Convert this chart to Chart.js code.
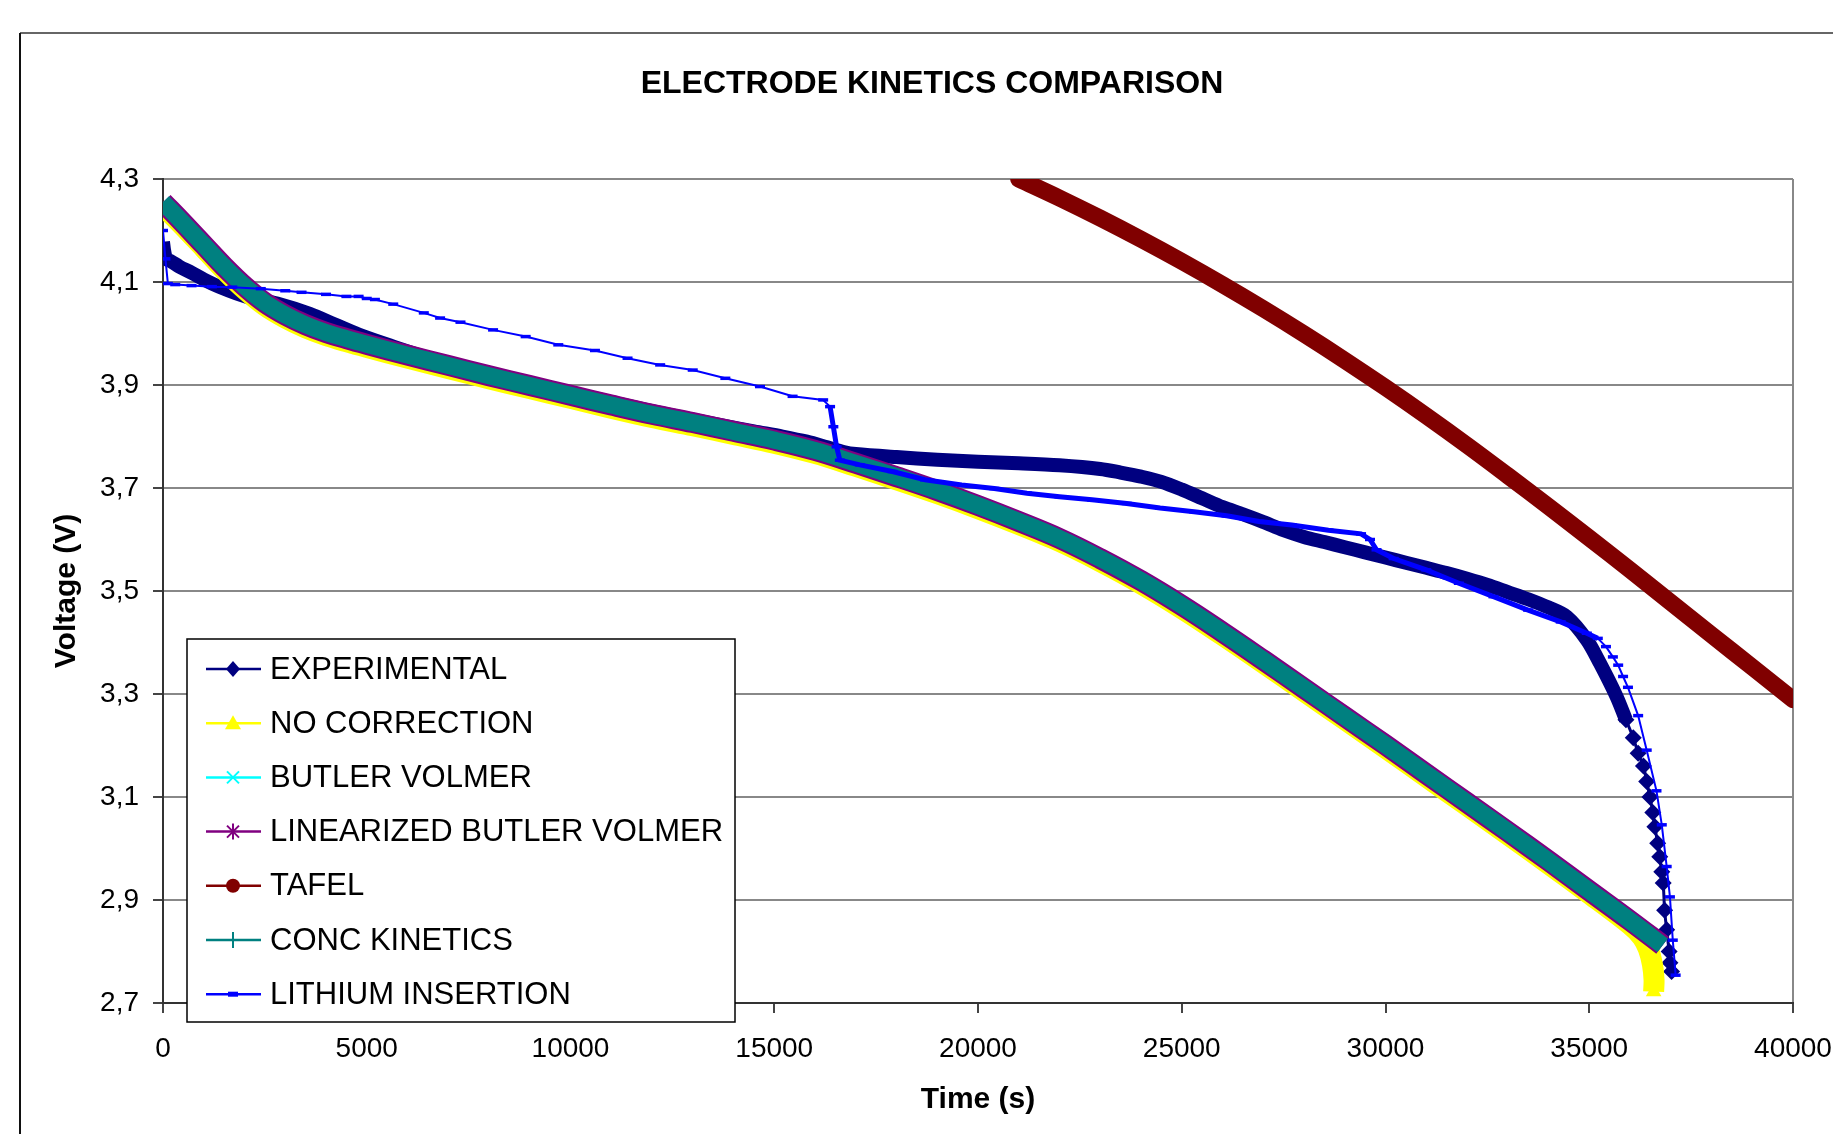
<!DOCTYPE html>
<html>
<head>
<meta charset="utf-8">
<title>Electrode kinetics comparison</title>
<script src="https://cdn.jsdelivr.net/npm/chart.js@4.4.1/dist/chart.umd.min.js"></script>
<style>
  html, body { margin: 0; padding: 0; background: #fff; }
  canvas { display: block; }
</style>
</head>
<body>
<canvas id="kineticsChart" width="1833" height="1134"></canvas>
<script>
// Ticks
const xTicks = [0, 5000, 10000, 15000, 20000, 25000, 30000, 35000, 40000];
const yTicks = [2.7, 2.9, 3.1, 3.3, 3.5, 3.7, 3.9, 4.1, 4.3];
const yTickLabels = ['2,7', '2,9', '3,1', '3,3', '3,5', '3,7', '3,9', '4,1', '4,3'];

// EXPERIMENTAL
const expTime = [0, 30, 80, 200, 400, 700, 1000, 1400, 1800, 2200, 2800, 3600, 4200, 4800, 5600,
  6500, 7500, 8500, 9500, 10500, 11500, 12500, 13500, 14500, 15200, 15800, 16300, 16700, 17000,
  18000, 19000, 20000, 21000, 22000, 23000, 23500, 24000, 24500, 25000, 25500, 26000, 26500, 27000,
  27500, 28000, 28500, 29000, 29500, 30000, 30500, 31000, 31500, 32000, 32500, 33000, 33500, 34000,
  34450, 34940, 35260, 35670, 35900, 36080, 36200, 36330, 36410, 36490, 36560, 36610, 36680, 36730,
  36780, 36815, 36850, 36900, 36960, 36980, 37020];
const expVolt = [4.178, 4.160, 4.145, 4.140, 4.130, 4.118, 4.105, 4.090, 4.078, 4.068, 4.058, 4.038, 4.018, 3.998, 3.976,
  3.953, 3.933, 3.913, 3.894, 3.876, 3.858, 3.841, 3.825, 3.810, 3.800, 3.790, 3.779, 3.770, 3.766,
  3.760, 3.755, 3.751, 3.748, 3.744, 3.737, 3.730, 3.722, 3.712, 3.697, 3.680, 3.663, 3.649, 3.634,
  3.618, 3.605, 3.595, 3.585, 3.575, 3.565, 3.555, 3.545, 3.535, 3.524, 3.512, 3.498, 3.484, 3.468,
  3.450, 3.405, 3.360, 3.295, 3.250, 3.215, 3.185, 3.160, 3.130, 3.100, 3.070, 3.042, 3.010, 2.984,
  2.955, 2.933, 2.880, 2.842, 2.800, 2.778, 2.761];

// model curves (BUTLER VOLMER, LINEARIZED BUTLER VOLMER, CONC KINETICS)
const modelTime = [0, 500, 1000, 1500, 2000, 2500, 3000, 3500, 4000, 4500, 5000, 6000, 7000, 8000, 9000,
  10000, 11000, 12000, 13000, 14000, 15000, 16000, 17000, 18000, 19000, 20000, 21000, 22000, 23000,
  24000, 25000, 26000, 27000, 28000, 29000, 30000, 31000, 32000, 33000, 34000, 35000, 36000, 36800];
const concVolt = [4.255, 4.214, 4.172, 4.130, 4.092, 4.060, 4.036, 4.017, 4.002, 3.990, 3.979, 3.958, 3.938, 3.918, 3.899,
  3.880, 3.861, 3.843, 3.827, 3.810, 3.793, 3.773, 3.748, 3.722, 3.695, 3.666, 3.635, 3.602, 3.563,
  3.520, 3.472, 3.420, 3.366, 3.311, 3.256, 3.201, 3.145, 3.089, 3.033, 2.976, 2.918, 2.860, 2.812];
const bvVolt = [4.255, 4.214, 4.172, 4.130, 4.092, 4.060, 4.036, 4.017, 4.002, 3.990, 3.979, 3.958, 3.938, 3.918, 3.899,
  3.880, 3.861, 3.843, 3.827, 3.810, 3.793, 3.773, 3.748, 3.722, 3.695, 3.666, 3.635, 3.602, 3.563,
  3.520, 3.472, 3.420, 3.366, 3.311, 3.256, 3.201, 3.145, 3.089, 3.033, 2.976, 2.918, 2.860, 2.812];
const linBvVolt = [4.255, 4.214, 4.172, 4.130, 4.092, 4.060, 4.036, 4.017, 4.002, 3.990, 3.979, 3.958, 3.938, 3.918, 3.899,
  3.880, 3.861, 3.843, 3.827, 3.810, 3.793, 3.773, 3.748, 3.722, 3.695, 3.666, 3.635, 3.602, 3.563,
  3.520, 3.472, 3.420, 3.366, 3.311, 3.256, 3.201, 3.145, 3.089, 3.033, 2.976, 2.918, 2.860, 2.812];

// NO CORRECTION
const noCorrTime = [0, 500, 1000, 1500, 2000, 2500, 3000, 3500, 4000, 4500, 5000, 6000, 7000, 8000, 9000,
  10000, 11000, 12000, 13000, 14000, 15000, 16000, 17000, 18000, 19000, 20000, 21000, 22000, 23000,
  24000, 25000, 26000, 27000, 28000, 29000, 30000, 31000, 32000, 33000, 34000, 35000, 36000, 36300,
  36450, 36550, 36590, 36580];
const noCorrVolt = [4.248, 4.208, 4.166, 4.124, 4.086, 4.054, 4.030, 4.011, 3.996, 3.984, 3.973, 3.952, 3.932, 3.912, 3.893,
  3.874, 3.855, 3.837, 3.821, 3.804, 3.787, 3.767, 3.742, 3.716, 3.689, 3.660, 3.629, 3.596, 3.557,
  3.514, 3.466, 3.414, 3.360, 3.305, 3.250, 3.195, 3.139, 3.083, 3.027, 2.970, 2.912, 2.852, 2.828,
  2.805, 2.775, 2.745, 2.722];

// TAFEL
const tafelTime = [21000, 22000, 23000, 24000, 25000, 26000, 27000, 28000, 29000, 30000, 31000,
  32000, 33000, 34000, 35000, 36000, 37000, 38000, 39000, 40000];
const tafelVolt = [4.300, 4.263, 4.224, 4.183, 4.140, 4.095, 4.048, 3.999, 3.948, 3.895, 3.840,
  3.783, 3.724, 3.664, 3.603, 3.541, 3.478, 3.415, 3.352, 3.289];

// LITHIUM INSERTION
const liTime = [0, 60, 120, 300, 700, 1200, 1700, 2400, 3000, 3400, 4000, 4500, 4800, 5000, 5200,
  5650, 6400, 6800, 7300, 8100, 8900, 9700, 10600, 11400, 12200, 13000, 13800, 14650, 15450, 16200,
  16370, 16450, 16530, 16610, 17100, 17900, 18700, 19600, 20400, 21200, 22000, 22800, 23650, 24470,
  25300, 26100, 26900, 27700, 28600, 29400, 29620, 29780, 30200, 31000, 31800, 32650, 33500, 34300,
  34940, 35210, 35410, 35580, 35710, 35830, 35950, 36200, 36410, 36650, 36780, 36900, 36980, 37050, 37120];
const liVolt = [4.200, 4.145, 4.097, 4.095, 4.093, 4.091, 4.090, 4.087, 4.083, 4.080, 4.076, 4.072, 4.072, 4.068, 4.066,
  4.057, 4.040, 4.030, 4.022, 4.007, 3.994, 3.978, 3.967, 3.952, 3.939, 3.929, 3.913, 3.897, 3.878, 3.871,
  3.858, 3.819, 3.780, 3.754, 3.745, 3.732, 3.716, 3.706, 3.699, 3.690, 3.683, 3.677, 3.670, 3.661,
  3.654, 3.646, 3.635, 3.628, 3.618, 3.611, 3.600, 3.580, 3.563, 3.541, 3.515, 3.489, 3.463, 3.440,
  3.418, 3.408, 3.392, 3.372, 3.356, 3.334, 3.313, 3.258, 3.191, 3.112, 3.046, 2.965, 2.906, 2.822, 2.754];

const FONT = "'Liberation Sans', Arial, Helvetica, sans-serif";

function toPoints(times, volts) {
  return times.map((t, i) => ({ x: t, y: volts[i] }));
}

// marco exterior + fondo
const framePlugin = {
  id: 'frame',
  beforeDraw(chart) {
    const ctx = chart.ctx;
    ctx.save();
    ctx.fillStyle = '#fff';
    ctx.fillRect(0, 0, chart.width, chart.height);
    ctx.lineWidth = 2;
    ctx.strokeStyle = '#666';
    ctx.beginPath();
    ctx.moveTo(20, 33);
    ctx.lineTo(chart.width, 33);
    ctx.stroke();
    ctx.strokeStyle = '#111';
    ctx.beginPath();
    ctx.moveTo(20, 33);
    ctx.lineTo(20, chart.height);
    ctx.stroke();
    ctx.restore();
  }
};

function drawMarker(ctx, type, cx, cy, color) {
  ctx.save();
  ctx.fillStyle = color;
  ctx.strokeStyle = color;
  ctx.lineWidth = 2;
  ctx.beginPath();
  if (type === 'diamond') {
    ctx.moveTo(cx, cy - 8); ctx.lineTo(cx + 7, cy); ctx.lineTo(cx, cy + 8); ctx.lineTo(cx - 7, cy);
    ctx.closePath(); ctx.fill();
  } else if (type === 'triangle') {
    ctx.moveTo(cx, cy - 8); ctx.lineTo(cx + 8, cy + 6); ctx.lineTo(cx - 8, cy + 6);
    ctx.closePath(); ctx.fill();
  } else if (type === 'x') {
    ctx.moveTo(cx - 6, cy - 6); ctx.lineTo(cx + 6, cy + 6);
    ctx.moveTo(cx + 6, cy - 6); ctx.lineTo(cx - 6, cy + 6);
    ctx.stroke();
  } else if (type === 'star') {
    ctx.moveTo(cx - 6, cy - 6); ctx.lineTo(cx + 6, cy + 6);
    ctx.moveTo(cx + 6, cy - 6); ctx.lineTo(cx - 6, cy + 6);
    ctx.moveTo(cx, cy - 8); ctx.lineTo(cx, cy + 8);
    ctx.stroke();
  } else if (type === 'circle') {
    ctx.arc(cx, cy, 7, 0, Math.PI * 2); ctx.fill();
  } else if (type === 'plus') {
    ctx.moveTo(cx, cy - 8); ctx.lineTo(cx, cy + 8);
    ctx.moveTo(cx - 6, cy); ctx.lineTo(cx + 6, cy);
    ctx.stroke();
  } else if (type === 'dash') {
    ctx.fillRect(cx - 5, cy - 2.5, 10, 5);
  }
  ctx.restore();
}

// leyenda dentro del area del grafico
const boxLegendPlugin = {
  id: 'boxLegend',
  afterDraw(chart) {
    const ctx = chart.ctx;
    const box = { x: 187, y: 639, w: 548, h: 383 };
    ctx.save();
    ctx.fillStyle = '#fff';
    ctx.fillRect(box.x, box.y, box.w, box.h);
    ctx.strokeStyle = '#000';
    ctx.lineWidth = 1.5;
    ctx.strokeRect(box.x, box.y, box.w, box.h);
    ctx.font = '31px ' + FONT;
    ctx.textBaseline = 'middle';
    ctx.textAlign = 'left';
    chart.data.datasets.forEach((ds, i) => {
      const y = 669 + i * 54.2;
      ctx.strokeStyle = ds.borderColor;
      ctx.lineWidth = 2.5;
      ctx.beginPath();
      ctx.moveTo(206, y);
      ctx.lineTo(261, y);
      ctx.stroke();
      drawMarker(ctx, ds.legendMarker, 233, y, ds.borderColor);
      ctx.fillStyle = '#000';
      ctx.fillText(ds.label, 270, y + 1);
    });
    ctx.restore();
  }
};

const bandLine = {
  pointRadius: 0,
  pointHoverRadius: 0,
  tension: 0.4,
  borderJoinStyle: 'round',
  fill: false
};

new Chart(document.getElementById('kineticsChart'), {
  type: 'line',
  data: {
    datasets: [
      {
        label: 'EXPERIMENTAL',
        legendMarker: 'diamond',
        data: toPoints(expTime, expVolt),
        borderColor: '#000080',
        backgroundColor: '#000080',
        borderWidth: 14,
        borderJoinStyle: 'round',
        tension: 0.3,
        pointStyle: 'rectRot',
        pointRadius: ctx => (expTime[ctx.dataIndex] >= 35900 ? 8.5 : 0),
        pointBorderWidth: 0,
        segment: { borderWidth: ctx => (ctx.p1.parsed.x > 36000 ? 3 : 14) },
        order: 7
      },
      Object.assign({}, bandLine, {
        label: 'NO CORRECTION',
        legendMarker: 'triangle',
        data: toPoints(noCorrTime, noCorrVolt),
        borderColor: '#FFFF00',
        backgroundColor: '#FFFF00',
        borderWidth: 21,
        pointStyle: 'triangle',
        pointRadius: ctx => (ctx.dataIndex === noCorrTime.length - 1 ? 9 : 0),
        pointBorderWidth: 0,
        tension: 0.3,
        order: 6
      }),
      Object.assign({}, bandLine, {
        label: 'BUTLER VOLMER',
        legendMarker: 'x',
        data: toPoints(modelTime, bvVolt),
        borderColor: '#00FFFF',
        backgroundColor: '#00FFFF',
        borderWidth: 16,
        order: 5
      }),
      Object.assign({}, bandLine, {
        label: 'LINEARIZED BUTLER VOLMER',
        legendMarker: 'star',
        data: toPoints(modelTime, linBvVolt),
        borderColor: '#800080',
        backgroundColor: '#800080',
        borderWidth: 21,
        order: 4
      }),
      Object.assign({}, bandLine, {
        label: 'TAFEL',
        legendMarker: 'circle',
        data: toPoints(tafelTime, tafelVolt),
        borderColor: '#800000',
        backgroundColor: '#800000',
        borderWidth: 17,
        borderCapStyle: 'round',
        order: 3
      }),
      Object.assign({}, bandLine, {
        label: 'CONC KINETICS',
        legendMarker: 'plus',
        data: toPoints(modelTime, concVolt),
        borderColor: '#008080',
        backgroundColor: '#008080',
        borderWidth: 17,
        order: 2
      }),
      {
        label: 'LITHIUM INSERTION',
        legendMarker: 'dash',
        data: toPoints(liTime, liVolt),
        borderColor: '#0000FF',
        backgroundColor: '#0000FF',
        borderWidth: 2,
        tension: 0,
        pointStyle: 'line',
        pointRadius: 5,
        pointBorderWidth: 3.5,
        pointBorderColor: '#0000FF',
        segment: {
          borderWidth: ctx => (ctx.p0.parsed.x >= 16370 && ctx.p1.parsed.x <= 35210 ? 5 : 2)
        },
        order: 1
      }
    ]
  },
  options: {
    responsive: false,
    animation: false,
    devicePixelRatio: 1,
    layout: { padding: { left: 31, right: 0, top: 0, bottom: 0 } },
    plugins: {
      legend: { display: false },
      tooltip: { enabled: false },
      title: {
        display: true,
        text: 'ELECTRODE KINETICS COMPARISON',
        color: '#000',
        font: { family: FONT, size: 32, weight: 'bold' },
        padding: { top: 65, bottom: 75.6 }
      }
    },
    scales: {
      x: {
        type: 'linear',
        min: 0,
        max: 40000,
        afterBuildTicks: s => { s.ticks = xTicks.map(v => ({ value: v })); },
        afterFit: s => { s.height = 131; s.paddingLeft = 0; s.paddingRight = 40; },
        ticks: {
          color: '#000',
          font: { family: FONT, size: 28 },
          padding: 19,
          maxRotation: 0,
          autoSkip: false,
          callback: v => String(v)
        },
        grid: {
          drawOnChartArea: true,
          color: ctx => (ctx.tick && ctx.tick.value === 40000 ? '#888' : 'rgba(0,0,0,0)'),
          lineWidth: 2,
          tickColor: '#444',
          tickLength: 10
        },
        border: { display: true, color: '#333', width: 2 },
        title: {
          display: true,
          text: 'Time (s)',
          color: '#000',
          font: { family: FONT, size: 30, weight: 'bold' },
          padding: 16
        }
      },
      y: {
        type: 'linear',
        min: 2.7,
        max: 4.3,
        afterBuildTicks: s => { s.ticks = yTicks.map(v => ({ value: v })); },
        afterFit: s => { s.width = 132; },
        ticks: {
          color: '#000',
          font: { family: FONT, size: 28 },
          padding: 14,
          autoSkip: false,
          callback: (v, i) => yTickLabels[i]
        },
        grid: {
          color: '#888',
          lineWidth: 2,
          tickColor: '#444',
          tickLength: 10
        },
        border: { display: true, color: '#333', width: 2 },
        title: {
          display: true,
          text: 'Voltage (V)',
          color: '#000',
          font: { family: FONT, size: 30, weight: 'bold' },
          padding: 18
        }
      }
    }
  },
  plugins: [framePlugin, boxLegendPlugin]
});
</script>
</body>
</html>
